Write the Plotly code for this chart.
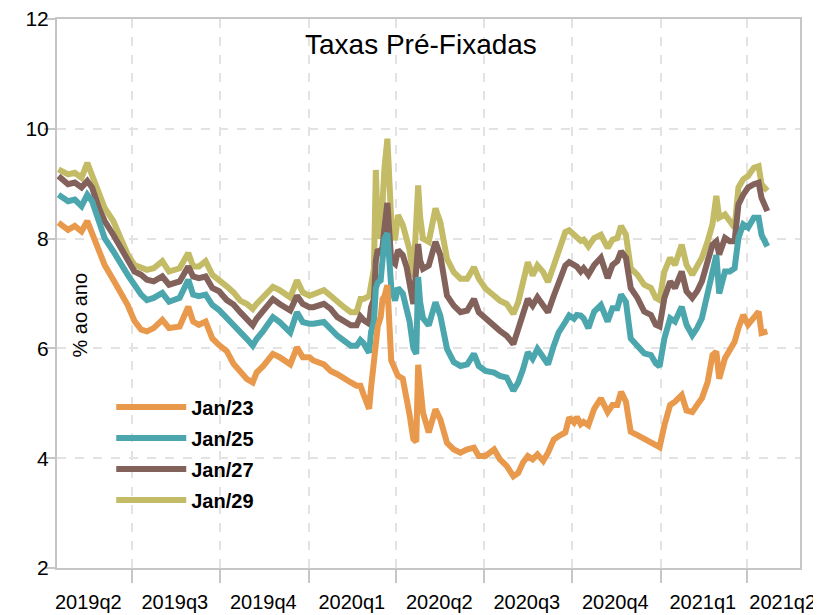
import plotly.graph_objects as go

dates = [
    "2019-04-16", "2019-04-26", "2019-05-03", "2019-05-10", "2019-05-16", "2019-05-21", "2019-05-28",
    "2019-06-03", "2019-06-12", "2019-06-20", "2019-06-27",
    "2019-07-04", "2019-07-11", "2019-07-17", "2019-07-24", "2019-08-02", "2019-08-09", "2019-08-20",
    "2019-08-29", "2019-09-03", "2019-09-09", "2019-09-16", "2019-09-23", "2019-09-30",
    "2019-10-08", "2019-10-15", "2019-10-22", "2019-10-29", "2019-11-04", "2019-11-08", "2019-11-15",
    "2019-11-25", "2019-12-02", "2019-12-09", "2019-12-13", "2019-12-20", "2019-12-26",
    "2020-01-02", "2020-01-06", "2020-01-17", "2020-01-24", "2020-01-31", "2020-02-07", "2020-02-14",
    "2020-02-20", "2020-02-24", "2020-02-27", "2020-03-04", "2020-03-06", "2020-03-09", "2020-03-11",
    "2020-03-13", "2020-03-16", "2020-03-18", "2020-03-20", "2020-03-23", "2020-03-27", "2020-03-31",
    "2020-04-03", "2020-04-08", "2020-04-12", "2020-04-15", "2020-04-19", "2020-04-22", "2020-04-24",
    "2020-04-26", "2020-04-29", "2020-05-05", "2020-05-12", "2020-05-17", "2020-05-24", "2020-05-31",
    "2020-06-07", "2020-06-14", "2020-06-21", "2020-06-26",
    "2020-07-03", "2020-07-12", "2020-07-18", "2020-07-25", "2020-08-01", "2020-08-06", "2020-08-11",
    "2020-08-16", "2020-08-21", "2020-08-26", "2020-09-01", "2020-09-06", "2020-09-12", "2020-09-17",
    "2020-09-24", "2020-09-28",
    "2020-10-03", "2020-10-06", "2020-10-10", "2020-10-13", "2020-10-18", "2020-10-24", "2020-10-31",
    "2020-11-07", "2020-11-12", "2020-11-17", "2020-11-21", "2020-11-26", "2020-12-01", "2020-12-08",
    "2020-12-15", "2020-12-22", "2020-12-27", "2020-12-31",
    "2021-01-05", "2021-01-11", "2021-01-16", "2021-01-23", "2021-01-28", "2021-02-03", "2021-02-08",
    "2021-02-13", "2021-02-19", "2021-02-24", "2021-02-28", "2021-03-03", "2021-03-09", "2021-03-14",
    "2021-03-19", "2021-03-23", "2021-03-28", "2021-04-02", "2021-04-08", "2021-04-13", "2021-04-16",
    "2021-04-22",
]

jan23 = [
    8.29, 8.16, 8.23, 8.13, 8.32, 8.10, 7.83, 7.52, 7.25, 7.01, 6.79,
    6.50, 6.34, 6.31, 6.37, 6.52, 6.37, 6.40, 6.76, 6.49, 6.43, 6.49, 6.18, 6.06,
    5.95, 5.72, 5.56, 5.44, 5.38, 5.56, 5.68, 5.90, 5.84, 5.75, 5.71, 6.02, 5.84,
    5.84, 5.78, 5.71, 5.59, 5.53, 5.44, 5.38, 5.32, 5.32, 5.17, 4.90, 5.28, 5.80, 6.20,
    6.40, 6.57, 6.90, 6.95, 7.15, 5.78, 5.65,
    5.50, 5.45, 4.98, 4.80, 4.35, 4.30, 5.70, 5.30, 4.83, 4.47, 4.89, 4.71, 4.28, 4.16,
    4.10, 4.16, 4.19, 4.04,
    4.04, 4.16, 3.98, 3.86, 3.67, 3.73, 3.92, 4.04, 3.98, 4.07, 3.95, 4.10, 4.34, 4.40,
    4.47, 4.74,
    4.65, 4.75, 4.62, 4.66, 4.60, 4.90, 5.09, 4.84, 4.97, 4.97, 5.21, 5.03, 4.48, 4.42,
    4.36, 4.30, 4.23, 4.20,
    4.60, 4.97, 5.03, 5.15, 4.87, 4.84, 4.97, 5.09, 5.39, 5.88, 5.94, 5.45, 5.82, 6.00,
    6.12, 6.37, 6.61, 6.43, 6.55, 6.67, 6.28, 6.31,
]

jan25 = [
    8.80, 8.68, 8.71, 8.59, 8.80, 8.68, 8.32, 8.01, 7.77, 7.52, 7.34,
    7.16, 6.98, 6.88, 6.92, 7.01, 6.85, 6.92, 7.25, 6.98, 6.95, 6.98, 6.79, 6.70,
    6.56, 6.45, 6.29, 6.17, 6.05, 6.17, 6.32, 6.57, 6.48, 6.35, 6.29, 6.66, 6.48,
    6.45, 6.45, 6.48, 6.35, 6.23, 6.14, 6.05, 6.05, 6.15, 6.10, 5.92, 6.30, 6.50, 7.10,
    7.20, 7.24, 7.60, 8.00, 8.10, 7.12, 6.87,
    7.10, 7.00, 6.75, 6.50, 6.00, 5.90, 7.30, 6.85, 6.55, 6.42, 6.84, 6.60, 5.99, 5.75,
    5.68, 5.71, 5.90, 5.68,
    5.59, 5.56, 5.50, 5.47, 5.23, 5.38, 5.62, 5.93, 5.81, 5.99, 5.84, 5.71, 6.05, 6.29,
    6.48, 6.60,
    6.54, 6.61, 6.60, 6.55, 6.37, 6.67, 6.79, 6.49, 6.73, 6.73, 6.98, 6.85, 6.18, 6.06,
    5.91, 5.88, 5.73, 5.67,
    6.18, 6.55, 6.49, 6.76, 6.43, 6.24, 6.37, 6.55, 6.98, 7.40, 7.70, 7.00, 7.40, 7.40,
    7.46, 8.01, 8.26, 8.20, 8.38, 8.38, 8.07, 7.86,
]

jan27 = [
    9.14, 8.99, 9.02, 8.93, 9.05, 8.93, 8.56, 8.32, 8.07, 7.83, 7.59,
    7.40, 7.34, 7.25, 7.22, 7.31, 7.16, 7.22, 7.49, 7.31, 7.28, 7.31, 7.10, 7.04,
    6.88, 6.80, 6.66, 6.54, 6.42, 6.54, 6.69, 6.90, 6.81, 6.72, 6.69, 6.96, 6.81,
    6.75, 6.75, 6.81, 6.72, 6.57, 6.51, 6.42, 6.42, 6.58, 6.52, 6.45, 6.75, 6.90, 7.60,
    7.80, 7.75, 7.85, 8.20, 8.65, 7.60, 7.54,
    7.79, 7.70, 7.48, 7.20, 6.81, 7.45, 7.90, 7.60, 7.45, 7.51, 7.94, 7.70, 6.96, 6.78,
    6.66, 6.69, 6.90, 6.66,
    6.54, 6.42, 6.32, 6.23, 6.08, 6.35, 6.66, 6.90, 6.78, 6.93, 6.78, 6.66, 6.96, 7.21,
    7.51, 7.57,
    7.51, 7.49, 7.40, 7.46, 7.34, 7.52, 7.65, 7.28, 7.52, 7.59, 7.77, 7.65, 7.10, 6.92,
    6.67, 6.61, 6.43, 6.40,
    6.92, 7.22, 7.10, 7.40, 7.04, 6.92, 7.04, 7.22, 7.59, 7.89, 7.95, 7.71, 8.01, 7.95,
    7.95, 8.62, 8.80, 8.93, 8.99, 9.02, 8.74, 8.50,
]

jan29 = [
    9.26, 9.17, 9.20, 9.11, 9.38, 9.14, 8.80, 8.56, 8.32, 8.01, 7.71,
    7.52, 7.46, 7.43, 7.46, 7.59, 7.40, 7.46, 7.74, 7.49, 7.49, 7.59, 7.34, 7.25,
    7.13, 7.02, 6.87, 6.81, 6.72, 6.81, 6.93, 7.12, 7.06, 6.96, 6.93, 7.24, 7.02,
    6.96, 6.99, 7.06, 6.96, 6.84, 6.75, 6.66, 6.66, 6.90, 6.90, 6.95, 7.20, 7.45, 9.25,
    8.20, 8.00, 8.82, 9.30, 9.82, 8.34, 7.97,
    8.43, 8.25, 7.97, 7.80, 7.30, 8.60, 8.97, 8.40, 8.00, 7.94, 8.55, 8.30, 7.63, 7.39,
    7.27, 7.27, 7.48, 7.27,
    7.09, 6.96, 6.87, 6.81, 6.63, 6.84, 7.27, 7.57, 7.33, 7.51, 7.39, 7.21, 7.51, 7.76,
    8.12, 8.15,
    8.06, 8.04, 7.96, 7.98, 7.86, 8.01, 8.07, 7.83, 7.98, 8.01, 8.23, 8.07, 7.46, 7.34,
    7.16, 7.10, 6.92, 6.88,
    7.40, 7.65, 7.52, 7.89, 7.52, 7.34, 7.52, 7.65, 7.95, 8.26, 8.78, 8.38, 8.44, 8.32,
    8.20, 8.93, 9.08, 9.14, 9.29, 9.32, 8.99, 8.87,
]

series_names = ["Jan/23", "Jan/25", "Jan/27", "Jan/29"]
series_colors = ["#E8994B", "#4BA6AE", "#82625A", "#C4BB66"]
quarter_labels = ["2019q2", "2019q3", "2019q4", "2020q1", "2020q2", "2020q3", "2020q4", "2021q1", "2021q2"]
quarter_mids = ["2019-05-17", "2019-08-15", "2019-11-15", "2020-02-15", "2020-05-16", "2020-08-15",
                "2020-11-15", "2021-02-14", "2021-05-08"]
quarter_starts = ["2019-07-01", "2019-10-01", "2020-01-01", "2020-04-01", "2020-07-01", "2020-10-01",
                  "2021-01-01", "2021-04-01"]
month_starts = ["2019-05-01", "2019-06-01", "2019-08-01", "2019-09-01", "2019-11-01", "2019-12-01",
                "2020-02-01", "2020-03-01", "2020-05-01", "2020-06-01", "2020-08-01", "2020-09-01",
                "2020-11-01", "2020-12-01", "2021-02-01", "2021-03-01", "2021-05-01"]
y_ticks = [2, 4, 6, 8, 10, 12]
x_range = ["2019-04-14 12:00", "2021-05-26"]

series_values = [jan23, jan25, jan27, jan29]
for v in series_values:
    assert len(v) == len(dates), (len(v), len(dates))

fig = go.Figure()
# Jan/29 drawn first (back), Jan/23 last (front); legendrank keeps Jan/23 at the top of the legend
rows = list(zip(series_names, series_values, series_colors, range(1, 5)))
for name, vals, col, rank in reversed(rows):
    fig.add_trace(go.Scatter(x=dates, y=vals, mode="lines", name=name, legendgroup=name,
                             legendrank=rank, line=dict(color=col, width=6)))

axis_col = "#C6C6C6"
grid_col = "#E3E3E3"
# the page body adds an 8px margin, so the figure is sized/offset to land on the 821x615 window
fig.update_layout(
    width=813, height=607,
    margin=dict(l=49, r=21, t=11, b=47, autoexpand=False),
    plot_bgcolor="white", paper_bgcolor="white",
    font=dict(family="Liberation Sans, Arial, sans-serif", color="black"),
    showlegend=True,
    legend=dict(x=0.073, y=0.329, xanchor="left", yanchor="top", traceorder="grouped",
                bgcolor="rgba(0,0,0,0)",
                font=dict(size=20, color="black", family="Liberation Sans, Arial, sans-serif", weight="bold"),
                itemwidth=70, tracegroupgap=2),
    xaxis=dict(
        type="date", range=x_range, automargin=False,
        tickmode="array", tickvals=quarter_mids, ticktext=quarter_labels,
        ticks="", showgrid=False, zeroline=False, ticklabeloverflow="allow",
        tickfont=dict(size=20), ticklabelstandoff=15,
        showline=True, linecolor=axis_col, linewidth=2, mirror=True,
        minor=dict(tickmode="array", tickvals=quarter_starts, ticks="outside", ticklen=13,
                   tickcolor=axis_col, tickwidth=2, showgrid=True, gridcolor=grid_col,
                   griddash="dash", gridwidth=1.5),
    ),
    xaxis2=dict(
        type="date", range=x_range, overlaying="x", anchor="y", side="bottom", automargin=False,
        tickmode="array", tickvals=month_starts, ticks="outside", ticklen=7,
        tickcolor=axis_col, tickwidth=2, showticklabels=False, showgrid=False,
        zeroline=False, showline=False,
    ),
    yaxis=dict(
        range=[2, 12], tickmode="array", tickvals=y_ticks, automargin=False,
        ticks="outside", ticklen=11, tickcolor=axis_col, tickwidth=2,
        tickfont=dict(size=21), ticklabelstandoff=-9, ticklabeloverflow="allow",
        showgrid=True, gridcolor=grid_col, griddash="dash", gridwidth=1.5,
        zeroline=False, showline=True, linecolor=axis_col, linewidth=2, mirror=True,
    ),
    annotations=[
        dict(text="Taxas Pré-Fixadas", x=0.49, y=0.953, xref="paper", yref="paper",
             showarrow=False, font=dict(size=28, color="black"), xanchor="center", yanchor="middle"),
        dict(text="% ao ano", x=0.031, y=0.46, xref="paper", yref="paper", textangle=-90,
             showarrow=False, font=dict(size=20, color="black"), xanchor="center", yanchor="middle"),
    ],
)

fig.write_html("out.html")
